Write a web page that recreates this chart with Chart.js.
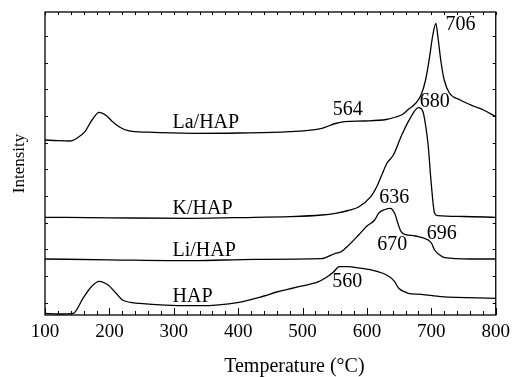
<!DOCTYPE html>
<html>
<head>
<meta charset="utf-8">
<script src="https://cdn.jsdelivr.net/npm/chart.js@4.4.0/dist/chart.umd.min.js"></script>
<style>
  html, body { margin: 0; padding: 0; background: #fff; }
</style>
</head>
<body>
<canvas id="tpd" width="516" height="377"></canvas>
<script>
// TPD profiles (intensity in arbitrary units, curves already offset)
const laTemps = [100, 120, 139, 150, 162, 173, 184, 195, 205, 217, 229, 260, 329, 400, 479, 530, 551, 565, 596, 630, 645, 655, 665, 676, 684, 691, 697, 702, 707, 710, 715, 720, 728, 745, 765, 781, 800];
const laValues = [175, 174.3, 174, 177, 183.3, 195, 202.7, 199.5, 193.3, 187.5, 184.3, 182.8, 181.7, 182, 183.3, 186.7, 191.5, 193.3, 194, 195.5, 198, 200.5, 206, 212, 220, 235, 257, 279, 291.7, 279, 253, 235, 222, 215, 209, 205, 198.3];

const kTemps = [100, 200, 329, 426, 479, 530, 551, 571, 587, 606, 615, 623, 631, 641, 654, 667, 680, 687, 691, 695, 700, 705, 710, 750, 800];
const kValues = [97.7, 97.2, 96.7, 97.7, 98.3, 100, 101.7, 104.5, 108, 118.3, 128, 140, 151.7, 160, 180, 196.7, 207.3, 203.3, 190, 170, 130, 101.7, 99.3, 98.5, 97.7];

const liTemps = [100, 200, 329, 426, 529, 551, 560, 572, 587, 600, 612, 618, 628, 636, 643, 648, 653, 659, 675, 695, 700, 705, 713, 721, 760, 800];
const liValues = [56, 55.2, 54.3, 55.7, 56.3, 61.7, 63.3, 70, 80, 89, 95, 101.7, 105.5, 106.7, 101.7, 91.7, 83.3, 80.7, 79, 75, 72, 65, 60, 57.3, 56, 56];

const hapTemps = [100, 120, 144, 159, 172, 184, 198, 210, 221, 247, 329, 340, 401, 440, 460, 478, 494, 525, 540, 548, 557, 571, 581, 632, 643, 649, 658, 664, 684, 715, 800];
const hapValues = [1.5, 1, 1.7, 16.7, 28.3, 33.7, 30, 22, 14.7, 11.7, 9.3, 9.3, 12.7, 19, 23, 25.8, 28.3, 33.3, 39, 43, 48.3, 48.3, 47.7, 39.5, 33.3, 27, 23.3, 21.7, 20.7, 18.3, 16.7];

// sample names, placed at (temperature, intensity)
const sampleNames = ['La/HAP', 'K/HAP', 'Li/HAP', 'HAP'];
const sampleNameT = [298, 298, 298, 298];
const sampleNameY = [186.7, 101, 59, 12.7];

// peak temperature labels
const peakTexts = ['706', '564', '680', '636', '670', '696', '560'];
const peakTextT = [722, 547, 682, 619, 616, 693, 546];
const peakTextY = [284.7, 200, 207.7, 111.7, 65, 75.7, 28.3];

const xTickLabels = ['100', '200', '300', '400', '500', '600', '700', '800'];

const toPoints = (xs, ys) => xs.map((x, i) => ({ x: x, y: ys[i] }));
const serif = '"Liberation Serif", "DejaVu Serif", serif';

const lineStyle = {
    borderColor: '#000',
    borderWidth: 1.3,
    pointRadius: 0,
    showLine: true,
    fill: false,
    cubicInterpolationMode: 'monotone'
};

const decorations = {
    id: 'decorations',
    afterDraw(chart) {
        const { ctx, chartArea: a, scales: { x, y } } = chart;
        ctx.save();
        ctx.strokeStyle = '#000';
        ctx.lineWidth = 1.3;
        ctx.strokeRect(a.left, a.top, a.right - a.left, a.bottom - a.top);

        // x ticks (inside): major every 100, minor every 20 at bottom; small ones on top
        ctx.lineWidth = 1;
        ctx.beginPath();
        for (let t = 100; t <= 800; t += 20) {
            const px = Math.round(x.getPixelForValue(t)) + 0.5;
            const len = t % 100 === 0 ? 7 : 4;
            ctx.moveTo(px, a.bottom);
            ctx.lineTo(px, a.bottom - len);
            ctx.moveTo(px, a.top);
            ctx.lineTo(px, a.top + 3);
        }
        // y ticks (inside) on both sides
        for (let k = 0; k <= 10; k++) {
            const py = Math.round(y.getPixelForValue(12.2 + 26.7 * k)) + 0.5;
            ctx.moveTo(a.left, py);
            ctx.lineTo(a.left + 3, py);
            ctx.moveTo(a.right, py);
            ctx.lineTo(a.right - 3, py);
        }
        ctx.stroke();

        ctx.fillStyle = '#000';
        ctx.textBaseline = 'alphabetic';
        ctx.textAlign = 'left';
        ctx.font = '20px ' + serif;
        sampleNames.forEach((s, i) => {
            ctx.fillText(s, x.getPixelForValue(sampleNameT[i]), y.getPixelForValue(sampleNameY[i]));
        });
        peakTexts.forEach((s, i) => {
            ctx.fillText(s, x.getPixelForValue(peakTextT[i]), y.getPixelForValue(peakTextY[i]));
        });

        // axis titles
        ctx.textAlign = 'center';
        ctx.fillText('Temperature (°C)', (a.left + a.right) / 2 + 24, 372);
        ctx.font = '17px ' + serif;
        ctx.translate(24, (a.top + a.bottom) / 2);
        ctx.rotate(-Math.PI / 2);
        ctx.fillText('Intensity', 0, 0);
        ctx.restore();
    }
};

new Chart(document.getElementById('tpd'), {
    type: 'scatter',
    data: {
        datasets: [
            { label: 'La/HAP', data: toPoints(laTemps, laValues), ...lineStyle },
            { label: 'K/HAP', data: toPoints(kTemps, kValues), ...lineStyle },
            { label: 'Li/HAP', data: toPoints(liTemps, liValues), ...lineStyle },
            { label: 'HAP', data: toPoints(hapTemps, hapValues), ...lineStyle }
        ]
    },
    options: {
        responsive: false,
        animation: false,
        layout: { padding: { top: 12, right: 18, left: 0, bottom: 0 } },
        plugins: { legend: { display: false }, tooltip: { enabled: false } },
        scales: {
            x: {
                type: 'linear',
                min: 100, max: 800,
                afterFit: s => { s.height = 62; },
                afterBuildTicks: s => { s.ticks = xTickLabels.map(v => ({ value: Number(v) })); },
                grid: { display: false, drawTicks: false },
                border: { display: false },
                ticks: { color: '#000', font: { family: serif, size: 19 }, padding: 6, maxRotation: 0 }
            },
            y: {
                type: 'linear',
                min: 0, max: 303,
                afterFit: s => { s.width = 45; },
                grid: { display: false, drawTicks: false },
                border: { display: false },
                ticks: { display: false }
            }
        }
    },
    plugins: [decorations]
});
</script>
</body>
</html>
